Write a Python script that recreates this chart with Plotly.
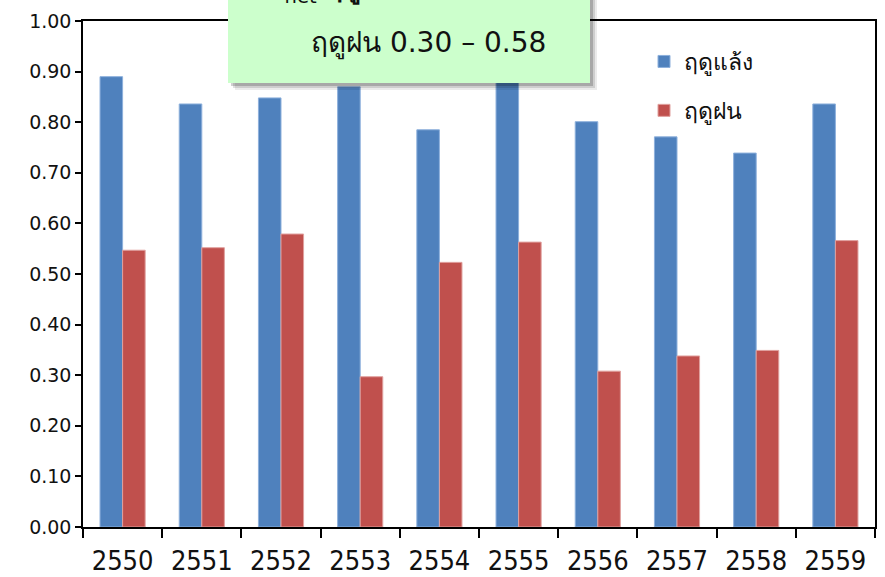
import plotly.graph_objects as go

years = ["2550", "2551", "2552", "2553", "2554", "2555", "2556", "2557", "2558", "2559"]
dry_season = [0.89, 0.836, 0.848, 0.870, 0.785, 0.89, 0.801, 0.771, 0.739, 0.836]
rainy_season = [0.547, 0.552, 0.579, 0.297, 0.523, 0.563, 0.308, 0.338, 0.349, 0.566]
y_ticks = [0.0, 0.1, 0.2, 0.3, 0.4, 0.5, 0.6, 0.7, 0.8, 0.9, 1.0]

W, H = 885, 577
L, R, T, B = 83, 10, 21, 50
pw, ph = W - L - R, H - T - B


def px(x):
    return (x - L) / pw


def py(y):
    return (H - B - y) / ph


fig = go.Figure()
fig.add_trace(go.Bar(
    x=years, y=dry_season, name="ฤดูแล้ง", legendgroup="a",
    marker=dict(color="#4F81BD", line=dict(color="#8DB0DC", width=1)),
))
fig.add_trace(go.Bar(
    x=years, y=rainy_season, name="ฤดูฝน", legendgroup="b",
    marker=dict(color="#C0504D", line=dict(color="#E0A09E", width=1)),
))

shapes = []
# soft drop shadow behind the note box
for off, alpha in [(7, 0.08), (5, 0.12), (3, 0.18)]:
    shapes.append(dict(
        type="rect", xref="paper", yref="paper", layer="above",
        x0=px(228 + off), x1=px(590 + off), y0=py(83 + off), y1=py(-5),
        fillcolor=f"rgba(0,0,0,{alpha})", line=dict(width=0),
    ))
shapes.append(dict(
    type="rect", xref="paper", yref="paper", layer="above",
    x0=px(228), x1=px(590), y0=py(83), y1=py(-5),
    fillcolor="#CCFFCC", line=dict(width=0),
))

annotations = [
    dict(
        text="α<sub>net</sub> <b>ฤดูแล้ง</b> 0.74 – 0.89",
        xref="paper", yref="paper", x=px(264), y=py(10),
        xanchor="left", yanchor="bottom", showarrow=False,
        font=dict(size=28, color="#111111", family="DejaVu Sans"),
    ),
    dict(
        text="ฤดูฝน 0.30 – 0.58",
        xref="paper", yref="paper", x=px(428), y=py(43),
        xanchor="center", yanchor="middle", showarrow=False,
        font=dict(size=28, color="#111111", family="DejaVu Sans"),
    ),
]

fig.update_layout(
    width=W, height=H,
    margin=dict(l=L, r=R, t=T, b=B, autoexpand=False),
    paper_bgcolor="white", plot_bgcolor="white",
    barmode="group", bargap=0.43, bargroupgap=0,
    shapes=shapes, annotations=annotations,
    showlegend=True,
    legend=dict(
        x=px(644), y=py(40), xanchor="left", yanchor="top",
        font=dict(size=23, color="#111111", family="DejaVu Sans"),
        traceorder="grouped", tracegroupgap=16,
        itemwidth=30, bgcolor="rgba(0,0,0,0)",
    ),
    font=dict(family="DejaVu Sans", color="#111111"),
)

fig.update_xaxes(
    type="category", showline=True, linecolor="black", linewidth=1.5,
    mirror=True, ticks="outside", tickson="boundaries", ticklen=9,
    tickcolor="black", tickwidth=1.5, ticklabelstandoff=9, automargin=False,
    tickfont=dict(size=27, family="DejaVu Sans Condensed, sans-serif", color="#111111"),
    showgrid=False,
)
fig.update_yaxes(
    range=[0, 1.0], tickvals=y_ticks, ticktext=[f"{v:.2f}" for v in y_ticks],
    showline=True, linecolor="black", linewidth=1.5, mirror=True,
    ticks="outside", ticklen=6, tickcolor="black", tickwidth=1.5, automargin=False,
    tickfont=dict(size=19, family="DejaVu Sans", color="#111111"),
    showgrid=False, zeroline=False,
)

fig.write_html("out.html")
